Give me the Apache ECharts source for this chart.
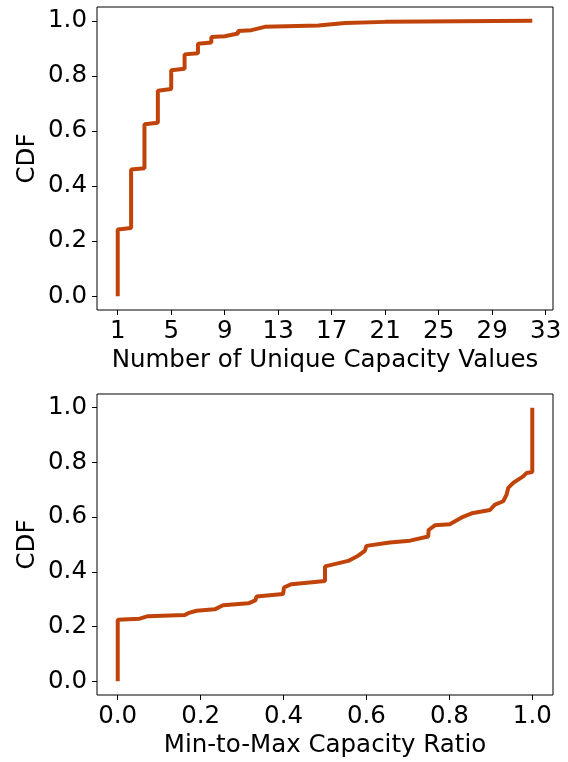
<!DOCTYPE html>
<html>
<head>
<meta charset="utf-8">
<script src="https://cdn.jsdelivr.net/npm/echarts@6/dist/echarts.min.js"></script>
<style>
  html, body { margin: 0; padding: 0; background: #fff; }
  #chart { width: 568px; height: 762px; }
</style>
</head>
<body>
<div id="chart"></div>
<script>
// Empirical CDF of the number of distinct capacity values (step points)
const uniqueCountX = [1, 1, 2, 2, 3, 3, 4, 4, 5, 5, 6, 6, 7, 7, 8, 8, 9, 9, 10, 10, 11, 11, 12, 16, 18, 21, 32];
const uniqueCountCdf = [0, 0.242, 0.248, 0.46, 0.465, 0.624, 0.63, 0.746, 0.752, 0.82, 0.826, 0.878, 0.882, 0.917, 0.921, 0.941, 0.944, 0.951, 0.954, 0.963, 0.966, 0.973, 0.978, 0.983, 0.992, 0.996, 1.0];

// Empirical CDF of the min-to-max capacity ratio
const ratioX = [0, 0, 0.053, 0.073, 0.162, 0.17, 0.19, 0.234, 0.254, 0.315, 0.332, 0.335, 0.399, 0.401, 0.419, 0.5, 0.5, 0.556, 0.58, 0.596, 0.6, 0.656, 0.705, 0.749, 0.75, 0.765, 0.801, 0.833, 0.854, 0.898, 0.91, 0.93, 0.938, 0.942, 0.954, 0.978, 0.986, 1.0, 1.0];
const ratioCdf = [0, 0.225, 0.229, 0.238, 0.242, 0.249, 0.258, 0.263, 0.278, 0.285, 0.296, 0.31, 0.319, 0.343, 0.355, 0.367, 0.42, 0.44, 0.459, 0.477, 0.495, 0.507, 0.514, 0.529, 0.553, 0.57, 0.574, 0.601, 0.614, 0.626, 0.646, 0.658, 0.682, 0.707, 0.725, 0.749, 0.761, 0.765, 1.0];

// Tick labels
const cdfTicks = [0, 0.2, 0.4, 0.6, 0.8, 1.0];
const uniqueTicks = [1, 5, 9, 13, 17, 21, 25, 29, 33];
const ratioTicks = [0, 0.2, 0.4, 0.6, 0.8, 1.0];

const FONT = 'DejaVu Sans';
const FONT_SIZE = 24.5;
const LINE_COLOR = '#c0440a';

function zip(xs, ys) { return xs.map((x, i) => [x, ys[i]]); }

function xAxisDef(idx, min, max, ticks, name, fmt) {
  return {
    type: 'value', gridIndex: idx, min: min, max: max,
    name: name, nameLocation: 'middle', nameGap: 38,
    nameTextStyle: { fontFamily: FONT, fontSize: FONT_SIZE, color: '#000' },
    axisLine: { show: false, onZero: false },
    splitLine: { show: false },
    axisTick: { show: true, length: 5, lineStyle: { color: '#000', width: 1 }, customValues: ticks },
    axisLabel: { fontFamily: FONT, fontSize: FONT_SIZE, color: '#000', margin: 9, customValues: ticks, formatter: fmt }
  };
}
function yAxisDef(idx) {
  return {
    type: 'value', gridIndex: idx, min: -0.05, max: 1.05,
    name: 'CDF', nameLocation: 'middle', nameGap: 57, nameRotate: 90, nameMoveOverlap: false,
    nameTextStyle: { fontFamily: FONT, fontSize: FONT_SIZE, color: '#000' },
    axisLine: { show: false, onZero: false },
    splitLine: { show: false },
    axisTick: { show: true, length: 5, lineStyle: { color: '#000', width: 1 }, customValues: cdfTicks },
    axisLabel: { fontFamily: FONT, fontSize: FONT_SIZE, color: '#000', margin: 10, customValues: cdfTicks,
      formatter: v => v.toFixed(1) }
  };
}

const chart = echarts.init(document.getElementById('chart'), null, { renderer: 'canvas' });
chart.setOption({
  animation: false,
  backgroundColor: '#fff',
  grid: [
    { left: 97, top: 7, width: 456, height: 303, show: true, borderColor: '#000', borderWidth: 1, backgroundColor: 'transparent' },
    { left: 97, top: 394, width: 456, height: 301, show: true, borderColor: '#000', borderWidth: 1, backgroundColor: 'transparent' }
  ],
  xAxis: [
    xAxisDef(0, -0.55, 33.55, uniqueTicks, 'Number of Unique Capacity Values', v => String(Math.round(v))),
    xAxisDef(1, -0.05, 1.05, ratioTicks, 'Min-to-Max Capacity Ratio', v => v.toFixed(1))
  ],
  yAxis: [yAxisDef(0), yAxisDef(1)],
  series: [
    { type: 'line', xAxisIndex: 0, yAxisIndex: 0, data: zip(uniqueCountX, uniqueCountCdf),
      showSymbol: false, lineStyle: { color: LINE_COLOR, width: 4 }, clip: false },
    { type: 'line', xAxisIndex: 1, yAxisIndex: 1, data: zip(ratioX, ratioCdf),
      showSymbol: false, lineStyle: { color: LINE_COLOR, width: 4 }, clip: false }
  ]
});
</script>
</body>
</html>
